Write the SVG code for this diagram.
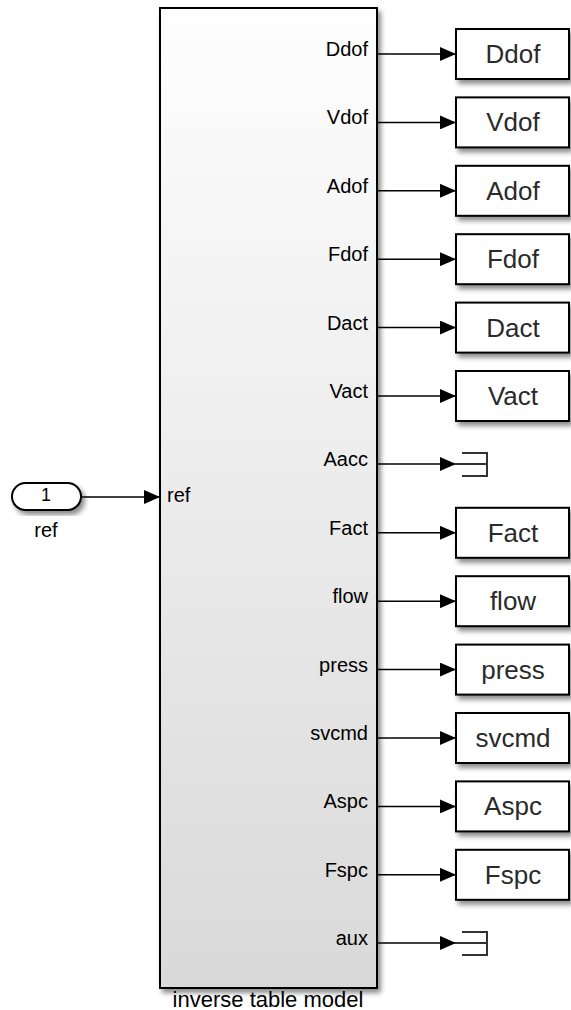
<svg xmlns="http://www.w3.org/2000/svg" width="571" height="1010" viewBox="0 0 571 1010">
<defs>
<linearGradient id="bg" x1="0" y1="0" x2="0" y2="1">
<stop offset="0" stop-color="#fefefe"/>
<stop offset="1" stop-color="#d9d9d9"/>
</linearGradient>
<filter id="sh" x="-10%" y="-10%" width="130%" height="130%">
<feDropShadow dx="3" dy="4" stdDeviation="2.5" flood-color="#000" flood-opacity="0.45"/>
</filter>
<marker id="ah" markerUnits="userSpaceOnUse" markerWidth="16" markerHeight="14" refX="16" refY="7" orient="auto">
<path d="M0,0 L16,7 L0,14 z" fill="#000"/>
</marker>
</defs>
<style>
text{font-family:"Liberation Sans",Arial,sans-serif;}
.port{font-size:20px;fill:#000;text-anchor:end;}
.lbl{font-size:20px;fill:#000;text-anchor:middle;}
.gt{font-size:26px;fill:#2a2a2a;text-anchor:middle;}
.box{fill:#fff;stroke:#000;stroke-width:2;filter:url(#sh);}
.wire{stroke:#000;stroke-width:1.5;fill:none;marker-end:url(#ah);}
.term{stroke:#333;stroke-width:2;fill:none;}
</style>

<g id="connectors">
<line class="wire" x1="81" y1="497" x2="160" y2="497"/>
<line class="wire" x1="377" y1="54" x2="456" y2="54"/>
<line class="wire" x1="377" y1="122.4" x2="456" y2="122.4"/>
<line class="wire" x1="377" y1="190.8" x2="456" y2="190.8"/>
<line class="wire" x1="377" y1="259.2" x2="456" y2="259.2"/>
<line class="wire" x1="377" y1="327.6" x2="456" y2="327.6"/>
<line class="wire" x1="377" y1="396" x2="456" y2="396"/>
<line class="wire" x1="377" y1="464" x2="456" y2="464"/>
<line class="wire" x1="377" y1="532.8" x2="456" y2="532.8"/>
<line class="wire" x1="377" y1="601.2" x2="456" y2="601.2"/>
<line class="wire" x1="377" y1="669.6" x2="456" y2="669.6"/>
<line class="wire" x1="377" y1="738" x2="456" y2="738"/>
<line class="wire" x1="377" y1="806.4" x2="456" y2="806.4"/>
<line class="wire" x1="377" y1="874.8" x2="456" y2="874.8"/>
<line class="wire" x1="377" y1="943" x2="456" y2="943"/>
</g>

<g id="inport">
<rect x="12" y="483" width="69" height="27" rx="13.5" class="box"/>
<text class="lbl" x="46" y="501" style="font-size:18px">1</text>
<text class="lbl" x="46" y="537">ref</text>
</g>

<g id="subsystem">
<rect x="160" y="8" width="217" height="980" fill="url(#bg)" stroke="#000" stroke-width="2" filter="url(#sh)"/>
<text x="167" y="502" style="font-size:20px">ref</text>
<text class="port" x="368" y="56">Ddof</text>
<text class="port" x="368" y="124.4">Vdof</text>
<text class="port" x="368" y="192.8">Adof</text>
<text class="port" x="368" y="261.2">Fdof</text>
<text class="port" x="368" y="329.6">Dact</text>
<text class="port" x="368" y="398">Vact</text>
<text class="port" x="368" y="466">Aacc</text>
<text class="port" x="368" y="534.8">Fact</text>
<text class="port" x="368" y="603.2">flow</text>
<text class="port" x="368" y="671.6">press</text>
<text class="port" x="368" y="740">svcmd</text>
<text class="port" x="368" y="808.4">Aspc</text>
<text class="port" x="368" y="876.8">Fspc</text>
<text class="port" x="368" y="945">aux</text>
<text class="lbl" x="268" y="1007" style="font-size:22px">inverse table model</text>
</g>

<g id="goto_Ddof"><rect class="box" x="456" y="29" width="113" height="50"/><text class="gt" x="513" y="63">Ddof</text></g>
<g id="goto_Vdof"><rect class="box" x="456" y="97.4" width="113" height="50"/><text class="gt" x="513" y="131.4">Vdof</text></g>
<g id="goto_Adof"><rect class="box" x="456" y="165.8" width="113" height="50"/><text class="gt" x="513" y="199.8">Adof</text></g>
<g id="goto_Fdof"><rect class="box" x="456" y="234.2" width="113" height="50"/><text class="gt" x="513" y="268.2">Fdof</text></g>
<g id="goto_Dact"><rect class="box" x="456" y="302.6" width="113" height="50"/><text class="gt" x="513" y="336.6">Dact</text></g>
<g id="goto_Vact"><rect class="box" x="456" y="371" width="113" height="50"/><text class="gt" x="513" y="405">Vact</text></g>
<g id="term_Aacc"><path class="term" d="M462,453 H487 V476 H462 M456,464 H487"/></g>
<g id="goto_Fact"><rect class="box" x="456" y="507.8" width="113" height="50"/><text class="gt" x="513" y="541.8">Fact</text></g>
<g id="goto_flow"><rect class="box" x="456" y="576.2" width="113" height="50"/><text class="gt" x="513" y="610.2">flow</text></g>
<g id="goto_press"><rect class="box" x="456" y="644.6" width="113" height="50"/><text class="gt" x="513" y="678.6">press</text></g>
<g id="goto_svcmd"><rect class="box" x="456" y="713" width="113" height="50"/><text class="gt" x="513" y="747">svcmd</text></g>
<g id="goto_Aspc"><rect class="box" x="456" y="781.4" width="113" height="50"/><text class="gt" x="513" y="815.4">Aspc</text></g>
<g id="goto_Fspc"><rect class="box" x="456" y="849.8" width="113" height="50"/><text class="gt" x="513" y="883.8">Fspc</text></g>
<g id="term_aux"><path class="term" d="M462,932 H487 V955 H462 M456,943 H487"/></g>
</svg>
